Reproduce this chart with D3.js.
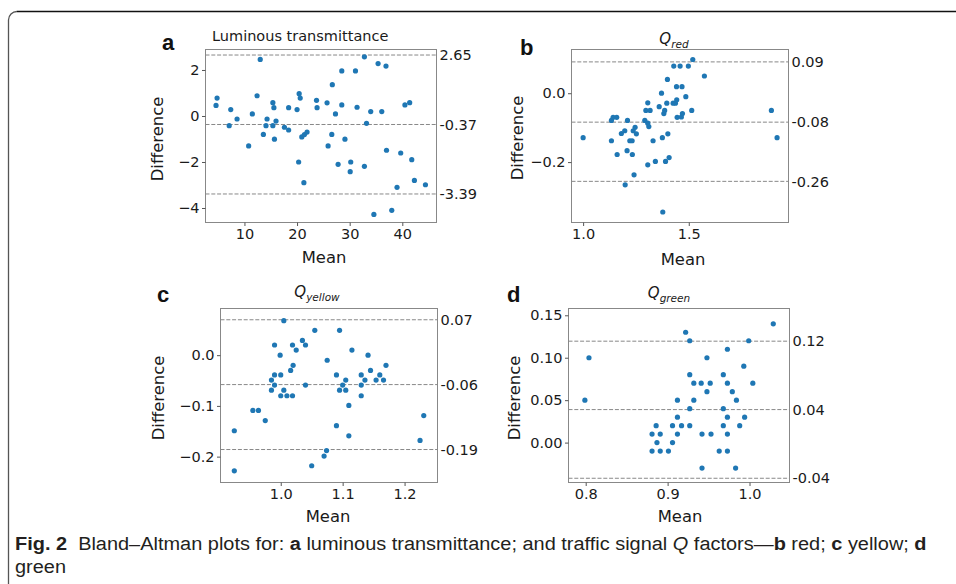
<!DOCTYPE html>
<html>
<head>
<meta charset="utf-8">
<script src="https://cdn.jsdelivr.net/npm/d3@7"></script>
<style>
  body { margin: 0; background: #fff; }
  svg { display: block; }
  .tick text { font-family: "DejaVu Sans", sans-serif; font-size: 14.5px; fill: #1a1a1a; }
  .tick line { stroke: #555; }
</style>
</head>
<body>
<svg id="fig" width="956" height="584"></svg>
<script>
// --- data ---
// panel a: luminous transmittance
var lumMean = [4.6,4.8,7.4,7.1,8.6,10.8,11.5,12.4,13.0,13.6,14.1,14.3,15.4,15.6,15.4,15.7,16.0,17.6,18.4,18.4,
  20.0,20.4,20.6,20.3,20.9,21.3,21.4,21.9,23.7,23.8,25.7,25.9,26.6,26.7,27.3,27.8,28.5,28.5,29.1,30.1,
  30.2,31.1,31.4,32.8,32.8,33.2,34.0,34.6,35.4,36.1,36.9,37.0,38.0,39.0,39.7,40.5,41.4,41.8,42.3,44.4];
var lumDiff = [0.46,0.78,0.28,-0.42,-0.13,-1.3,0.09,0.88,2.46,-0.8,-0.42,-0.13,0.58,0.36,-0.42,-1.01,-0.22,-0.49,-0.61,0.36,
  0.28,0.97,0.78,-2.0,-0.91,-2.9,-0.81,-0.7,0.68,0.36,0.57,-1.3,-0.8,1.36,0.09,-2.1,1.96,0.48,-1.01,-2.42,
  -2.0,1.96,0.38,-2.19,2.57,-0.32,0.19,-4.28,2.28,0.19,2.17,-1.49,-4.1,-3.1,-1.61,0.48,0.58,-1.9,-2.8,-2.99];

// panel b: Q red
var redMean = [1.0,1.134,1.134,1.142,1.159,1.161,1.181,1.197,1.199,1.21,1.208,1.221,1.232,1.233,1.237,1.241,1.246,1.252,
  1.292,1.297,1.306,1.306,1.311,1.317,1.306,1.331,1.342,1.36,1.371,1.375,1.377,1.382,1.386,1.39,1.396,1.399,1.401,1.407,
  1.426,1.429,1.437,1.443,1.442,1.445,1.459,1.465,1.468,1.47,1.486,1.498,1.514,1.519,1.574,1.891,1.918];
var redDiff = [-0.129,-0.138,-0.079,-0.07,-0.07,-0.178,-0.117,-0.109,-0.266,-0.079,-0.167,-0.138,-0.138,-0.178,-0.109,-0.237,-0.099,-0.118,
  -0.079,-0.05,-0.028,-0.087,-0.097,-0.05,-0.208,-0.138,-0.198,-0.039,0.0,-0.129,-0.345,-0.059,-0.05,-0.198,-0.029,0.04,-0.118,-0.187,
  -0.029,0.079,-0.029,-0.019,0.019,-0.07,0.079,-0.069,0.019,-0.059,-0.01,0.079,-0.05,0.098,0.05,-0.05,-0.129];

// panel c: Q yellow
var yelMean = [0.925,0.925,0.955,0.964,0.975,0.985,0.985,0.99,0.99,0.99,0.999,1.0,1.0,1.005,1.005,1.01,1.016,1.019,1.02,1.019,
  1.025,1.035,1.04,1.04,1.05,1.055,1.07,1.074,1.075,1.09,1.09,1.095,1.095,1.1,1.105,1.105,1.11,1.11,1.115,1.13,
  1.13,1.13,1.136,1.141,1.145,1.154,1.16,1.166,1.17,1.225,1.231];
var yelDiff = [-0.149,-0.228,-0.109,-0.109,-0.129,-0.049,-0.069,0.02,-0.039,-0.059,0.0,-0.039,-0.08,-0.069,0.068,-0.08,-0.03,0.02,-0.02,-0.08,
  0.01,0.029,0.02,-0.059,-0.218,0.049,-0.199,-0.188,-0.01,-0.039,-0.139,0.049,-0.069,-0.059,-0.049,-0.069,-0.099,-0.159,0.01,-0.039,
  -0.059,-0.08,-0.049,0.0,-0.03,-0.049,-0.039,-0.049,-0.02,-0.168,-0.119];

// panel d: Q green
var grnMean = [0.799,0.804,0.881,0.881,0.886,0.887,0.891,0.891,0.901,0.906,0.906,0.912,0.912,0.912,0.917,0.922,0.927,0.927,0.927,0.927,
  0.932,0.932,0.941,0.942,0.942,0.948,0.948,0.952,0.953,0.963,0.968,0.968,0.968,0.973,0.973,0.973,0.973,0.973,0.979,0.983,
  0.984,0.988,0.993,0.994,0.999,1.004,1.029];
var grnDiff = [0.05,0.1,0.01,-0.01,0.02,0.0,0.01,-0.01,-0.01,0.02,0.0,0.05,0.03,0.01,0.02,0.13,0.08,0.12,0.04,0.02,
  0.07,0.05,0.07,-0.03,0.01,0.1,0.06,0.07,0.01,-0.01,0.08,0.04,0.02,0.11,0.07,0.03,0.01,-0.01,0.06,-0.03,
  0.05,0.02,0.09,0.03,0.12,0.07,0.14];

// bias and limits of agreement (upper, mean, lower) and their printed labels
var lumLimits = [2.65, -0.37, -3.39],   lumLimitLabels = ["2.65", "-0.37", "-3.39"];
var redLimits = [0.091, -0.084, -0.256], redLimitLabels = ["0.09", "-0.08", "-0.26"];
var yelLimits = [0.0698, -0.058, -0.186], yelLimitLabels = ["0.07", "-0.06", "-0.19"];
var grnLimits = [0.1195, 0.0389, -0.042], grnLimitLabels = ["0.12", "0.04", "-0.04"];

// tick values
var lumXTicks = [10, 20, 30, 40],   lumYTicks = [2, 0, -2, -4];
var redXTicks = [1.0, 1.5],         redYTicks = [0.0, -0.2];
var yelXTicks = [1.0, 1.1, 1.2],    yelYTicks = [0.0, -0.1, -0.2];
var grnXTicks = [0.8, 0.9, 1.0],    grnYTicks = [0.15, 0.10, 0.05, 0.00];

var svg = d3.select("#fig");

// outer frame (top + left with rounded corner)
svg.append("path")
  .attr("d", "M8.5,600 V20 A8.5,8.5 0 0 1 17,11.5")
  .attr("fill", "none").attr("stroke", "#555").attr("stroke-width", 1.3);
svg.append("path")
  .attr("d", "M17,11.5 H960")
  .attr("fill", "none").attr("stroke", "#111").attr("stroke-width", 1.5);

var panels = [
  { letter: "a", mean: lumMean, diff: lumDiff, limits: lumLimits, limitLabels: lumLimitLabels,
    xTicks: lumXTicks, yTicks: lumYTicks, xFmt: d3.format("d"), yFmt: d3.format("d"),
    xDom: [2.6, 46.5], yDom: [-4.63, 2.89],
    box: [205.5, 436.5, 49.5, 222.5], letterPos: [162, 50],
    title: { text: "Luminous transmittance", x: 212, y: 41, anchor: "start" },
    xLab: [324, 263], yLab: [163, 139] },
  { letter: "b", mean: redMean, diff: redDiff, limits: redLimits, limitLabels: redLimitLabels,
    xTicks: redXTicks, yTicks: redYTicks, xFmt: d3.format(".1f"), yFmt: d3.format(".1f"),
    xDom: [0.945, 1.972], yDom: [-0.3755, 0.127],
    box: [571.5, 788.5, 49.5, 222.5], letterPos: [520, 55],
    title: { q: "red", x: 674, y: 44 },
    xLab: [683, 265], yLab: [523, 138] },
  { letter: "c", mean: yelMean, diff: yelDiff, limits: yelLimits, limitLabels: yelLimitLabels,
    xTicks: yelXTicks, yTicks: yelYTicks, xFmt: d3.format(".1f"), yFmt: d3.format(".1f"),
    xDom: [0.9027, 1.2532], yDom: [-0.251, 0.092],
    box: [220.5, 437.5, 308.5, 482.5], letterPos: [157, 302],
    title: { q: "yellow", x: 317, y: 297 },
    xLab: [328, 522], yLab: [164, 398] },
  { letter: "d", mean: grnMean, diff: grnDiff, limits: grnLimits, limitLabels: grnLimitLabels,
    xTicks: grnXTicks, yTicks: grnYTicks, xFmt: d3.format(".1f"), yFmt: d3.format(".2f"),
    xDom: [0.779, 1.0488], yDom: [-0.047, 0.158],
    box: [568.5, 789.5, 308.5, 482.5], letterPos: [507, 302],
    title: { q: "green", x: 669, y: 298 },
    xLab: [680, 522], yLab: [520, 398] }
];

panels.forEach(function(p) {
  var x0 = p.box[0], x1 = p.box[1], y0 = p.box[2], y1 = p.box[3];
  var x = d3.scaleLinear().domain(p.xDom).range([x0, x1]);
  var y = d3.scaleLinear().domain(p.yDom).range([y1, y0]);
  var g = svg.append("g");

  // limit lines
  g.selectAll("line.lim")
    .data(p.limits)
    .enter().append("line")
    .attr("class", "lim")
    .attr("x1", x0).attr("x2", x1)
    .attr("y1", d => y(d)).attr("y2", d => y(d))
    .attr("stroke", "#888").attr("stroke-width", 1)
    .attr("stroke-dasharray", "4,1.8");

  // points
  g.selectAll("circle")
    .data(p.mean.map((m, i) => [m, p.diff[i]]))
    .enter().append("circle")
    .attr("cx", d => x(d[0]))
    .attr("cy", d => y(d[1]))
    .attr("r", 2.6)
    .attr("fill", "#1f77b4");

  // box
  g.append("rect")
    .attr("x", x0).attr("y", y0)
    .attr("width", x1 - x0).attr("height", y1 - y0)
    .attr("fill", "none").attr("stroke", "#888").attr("stroke-width", 1);

  // axes
  var bottomAxis = d3.axisBottom(x).tickValues(p.xTicks).tickFormat(p.xFmt)
    .tickSize(3.5).tickPadding(2.5).tickSizeOuter(0);
  var leftAxis = d3.axisLeft(y).tickValues(p.yTicks).tickFormat(p.yFmt)
    .tickSize(3.5).tickPadding(2.5).tickSizeOuter(0);
  g.append("g").attr("transform", `translate(0,${y1})`).call(bottomAxis)
    .call(a => a.select(".domain").remove());
  g.append("g").attr("transform", `translate(${x0},0)`).call(leftAxis)
    .call(a => a.select(".domain").remove());

  // right-hand limit labels
  g.selectAll("text.limlab")
    .data(p.limits)
    .enter().append("text")
    .attr("class", "limlab")
    .attr("x", x1 + 3)
    .attr("y", d => y(d))
    .attr("dy", "0.36em")
    .style("font-family", "DejaVu Sans, sans-serif")
    .style("font-size", "14.5px")
    .attr("fill", "#1a1a1a")
    .text((d, i) => p.limitLabels[i]);

  // axis labels
  svg.append("text")
    .attr("x", p.xLab[0]).attr("y", p.xLab[1])
    .attr("text-anchor", "middle")
    .style("font-family", "DejaVu Sans, sans-serif").style("font-size", "16.4px")
    .attr("fill", "#1a1a1a")
    .text("Mean");
  svg.append("text")
    .attr("transform", `translate(${p.yLab[0]},${p.yLab[1]}) rotate(-90)`)
    .attr("text-anchor", "middle")
    .style("font-family", "DejaVu Sans, sans-serif").style("font-size", "16.4px")
    .attr("fill", "#1a1a1a")
    .text("Difference");

  // titles
  if (p.title.text) {
    svg.append("text")
      .attr("x", p.title.x).attr("y", p.title.y)
      .attr("text-anchor", p.title.anchor)
      .style("font-family", "DejaVu Sans, sans-serif").style("font-size", "14.5px")
      .attr("fill", "#1a1a1a")
      .text(p.title.text);
  } else {
    var t = svg.append("text")
      .attr("x", p.title.x).attr("y", p.title.y)
      .attr("text-anchor", "middle")
      .style("font-family", "DejaVu Sans, sans-serif").style("font-style", "italic")
      .attr("fill", "#1a1a1a");
    t.append("tspan").style("font-size", "15px").text("Q");
    t.append("tspan").style("font-size", "10.5px").attr("dy", 3.5).text(p.title.q);
  }

  // panel letter
  svg.append("text")
    .attr("x", p.letterPos[0]).attr("y", p.letterPos[1])
    .style("font-family", "Liberation Sans, Arial, sans-serif")
    .style("font-weight", "bold").style("font-size", "22px")
    .attr("fill", "#111")
    .text(p.letter);
});

// caption
var capParts = [
  ["Fig. 2", "bold"], ["  Bland\u2013Altman plots for: ", ""], ["a", "bold"],
  [" luminous transmittance; and traffic signal ", ""], ["Q", "italic"], [" factors\u2014", ""],
  ["b", "bold"], [" red; ", ""], ["c", "bold"], [" yellow; ", ""], ["d", "bold"]
];
var cap = svg.append("text")
  .attr("x", 15).attr("y", 550)
  .attr("xml:space", "preserve")
  .style("font-family", "Liberation Sans Narrow, Liberation Sans, Arial, sans-serif")
  .style("font-size", "19px")
  .attr("fill", "#231f20");
capParts.forEach(function(c) {
  var s = cap.append("tspan").text(c[0]);
  if (c[1] === "bold") s.style("font-weight", "bold");
  if (c[1] === "italic") s.style("font-style", "italic");
});
var capW = cap.node().getComputedTextLength();
var sx = 912 / capW;
cap.attr("transform", `translate(15,0) scale(${sx},1) translate(-15,0)`);

var cap2 = svg.append("text")
  .attr("x", 15).attr("y", 573)
  .style("font-family", "Liberation Sans Narrow, Liberation Sans, Arial, sans-serif")
  .style("font-size", "19px")
  .attr("fill", "#231f20")
  .text("green");
cap2.attr("transform", `translate(15,0) scale(${sx},1) translate(-15,0)`);
</script>
</body>
</html>
